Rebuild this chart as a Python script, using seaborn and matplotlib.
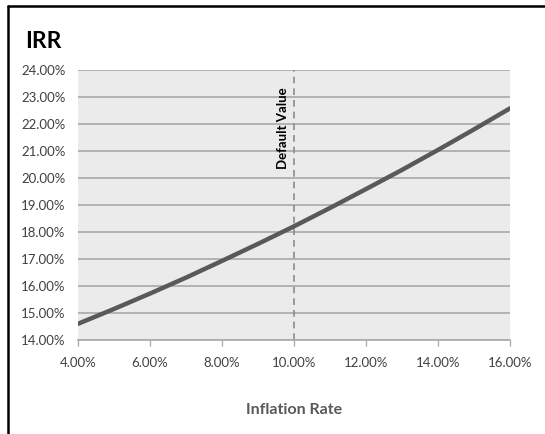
import numpy as np
import pandas as pd
import matplotlib
matplotlib.use("Agg")
import matplotlib.pyplot as plt
import seaborn as sns
from matplotlib.ticker import FuncFormatter, MultipleLocator
from matplotlib.lines import Line2D

# data (percent)
inflation_rate = [4, 5, 6, 7, 8, 9, 10, 11, 12, 13, 14, 15, 16]
irr = [14.60, 15.15, 15.72, 16.31, 16.93, 17.56, 18.21, 18.89, 19.59, 20.30, 21.04, 21.80, 22.58]
default_value = 10

df = pd.DataFrame({"Inflation Rate": inflation_rate, "IRR": irr})

sns.set_style("whitegrid")
plt.rcParams["font.family"] = ["Lato", "DejaVu Sans"]

fig = plt.figure(figsize=(5.45, 4.34), dpi=100)
ax = fig.add_axes([78 / 545, 1 - 340 / 434, (510 - 78) / 545, (340 - 70) / 434])
ax.set_facecolor("#EBEBEB")

sns.lineplot(data=df, x="Inflation Rate", y="IRR", ax=ax, color="#595959", linewidth=3.2)

ax.axvline(default_value, color="#8C8C8C", linestyle=(0, (4, 3)), linewidth=1.2, zorder=1)
ax.text(9.86, 23.35, "Default Value", rotation=90, ha="right", va="top",
        fontsize=9.5, fontweight="bold", color="black")

ax.set_xlim(4, 16)
ax.set_ylim(14, 24)
ax.xaxis.set_major_locator(MultipleLocator(2))
ax.yaxis.set_major_locator(MultipleLocator(1))
ax.xaxis.set_major_formatter(FuncFormatter(lambda v, p: f"{v:.2f}%"))
ax.yaxis.set_major_formatter(FuncFormatter(lambda v, p: f"{v:.2f}%"))

ax.grid(axis="y", color="#ADADAD", linewidth=1.3)
ax.grid(axis="x", visible=False)
for side in ["top", "right", "left"]:
    ax.spines[side].set_visible(False)
ax.spines["bottom"].set_color("#ADADAD")
ax.spines["bottom"].set_linewidth(1.3)

ax.tick_params(axis="x", length=4, width=1, color="#ADADAD", pad=8, labelsize=9.5, labelcolor="#404040", bottom=True)
ax.tick_params(axis="y", length=0, pad=9, labelsize=9.5, labelcolor="#404040")

ax.set_xlabel("Inflation Rate", fontsize=11.5, fontweight="bold", color="#595959", labelpad=25)
ax.set_ylabel("")

fig.text(25 / 545, 1 - 41 / 434, "IRR", fontsize=16.5, fontweight="bold", color="black", va="center", ha="left")

# chart frame (left and top edges)
fig.add_artist(Line2D([8 / 545, 8 / 545], [0, 1 - 6 / 434], transform=fig.transFigure, color="black", linewidth=1.8))
fig.add_artist(Line2D([8 / 545, 1], [1 - 6 / 434, 1 - 6 / 434], transform=fig.transFigure, color="black", linewidth=1.8))

fig.savefig("out.png", dpi=100)
